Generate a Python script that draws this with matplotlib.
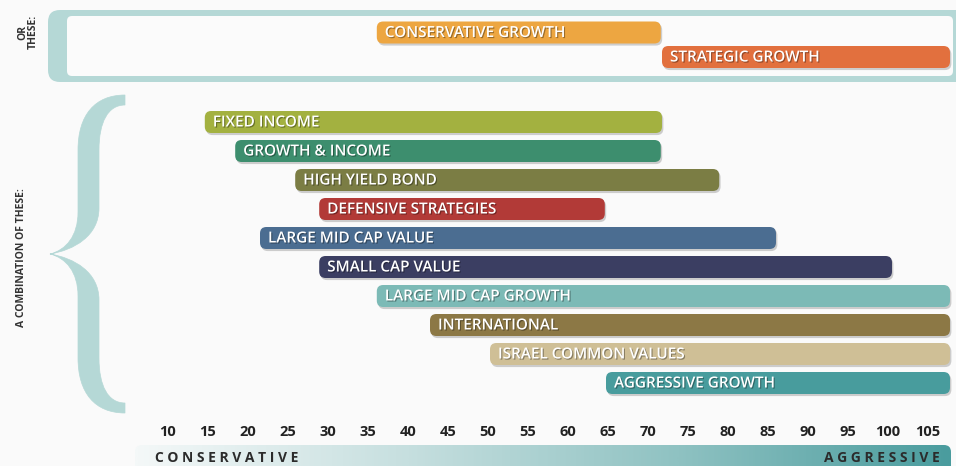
import numpy as np
import matplotlib
matplotlib.use('Agg')
import matplotlib.pyplot as plt
import matplotlib.patheffects as pe
from matplotlib.patches import FancyBboxPatch, PathPatch
from matplotlib.path import Path
from matplotlib.colors import LinearSegmentedColormap

plt.rcParams['font.family'] = ['Open Sans', 'DejaVu Sans']

# alternative single portfolios ("OR THESE")
alt_names = ['CONSERVATIVE GROWTH', 'STRATEGIC GROWTH']
alt_start = [36.1, 71.75]
alt_end = [71.6, 107.75]
alt_colors = ['#EDA641', '#E2703E']

# combination funds
fund_names = ['FIXED INCOME', 'GROWTH & INCOME', 'HIGH YIELD BOND', 'DEFENSIVE STRATEGIES',
              'LARGE MID CAP VALUE', 'SMALL CAP VALUE', 'LARGE MID CAP GROWTH',
              'INTERNATIONAL', 'ISRAEL COMMON VALUES', 'AGGRESSIVE GROWTH']
fund_start = [14.6, 18.4, 25.9, 28.9, 21.5, 28.9, 36.1, 42.75, 50.25, 64.75]
fund_end = [71.75, 71.6, 78.9, 64.6, 86.0, 100.5, 107.75, 107.75, 107.75, 107.75]
fund_colors = ['#A3B140', '#3D8E6E', '#7B7D44', '#B23A37', '#4B6D91',
               '#3B3E62', '#7CBAB6', '#8C7845', '#CFBF96', '#489C9D']

risk_ticks = [10, 15, 20, 25, 30, 35, 40, 45, 50, 55, 60, 65, 70, 75, 80, 85, 90, 95, 100, 105]

teal_light = '#B5D8D6'
bg = '#fafafa'

fig = plt.figure(figsize=(9.56, 4.66), dpi=100, facecolor=bg)

# decoration layer in pixel coords
deco = fig.add_axes([0, 0, 1, 1])
deco.set_xlim(0, 956)
deco.set_ylim(466, 0)
deco.axis('off')
deco.set_zorder(0)

# frame around the "or these" panel
deco.add_patch(FancyBboxPatch((48, 10), 930, 72, boxstyle='round,pad=0,rounding_size=12',
                              fc=teal_light, ec='none'))
deco.add_patch(FancyBboxPatch((67, 16), 886, 60, boxstyle='round,pad=0,rounding_size=5',
                              fc='#fbfbfb', ec='none'))

# curly brace
def brace_half(flip=False):
    pts = [(125, 95), (95, 95), (78, 115), (78, 150),
           (78, 212),
           (78, 236), (66, 250), (50, 254),
           (74, 250), (99, 236), (99, 208),
           (99, 150),
           (99, 122), (108, 105), (125, 105),
           (125, 95)]
    codes = [Path.MOVETO, Path.CURVE4, Path.CURVE4, Path.CURVE4,
             Path.LINETO,
             Path.CURVE4, Path.CURVE4, Path.CURVE4,
             Path.CURVE4, Path.CURVE4, Path.CURVE4,
             Path.LINETO,
             Path.CURVE4, Path.CURVE4, Path.CURVE4,
             Path.CLOSEPOLY]
    if flip:
        pts = [(x, 508 - y) for x, y in pts]
    return Path(pts, codes)

for f in (False, True):
    deco.add_patch(PathPatch(brace_half(f), fc=teal_light, ec=teal_light, lw=0.5))

# side labels
deco.text(28, 32, 'OR\nTHESE:', rotation=90, ha='center', va='center', fontsize=7.5,
          fontweight='bold', color='#333333', linespacing=1.0)
deco.text(22, 258, 'A COMBINATION OF THESE:', rotation=90, ha='center', va='center',
          fontsize=7.5, fontweight='bold', color='#333333')

# gradient risk bar
cmap = LinearSegmentedColormap.from_list('risk', ['#f4f8f8', '#c6dfdf', '#8fc2c2', '#4a9c9e'])
grad = np.linspace(0, 1, 400).reshape(1, -1)
im = deco.imshow(grad, extent=(135, 951, 470, 445), cmap=cmap, aspect='auto', zorder=1)
clip = FancyBboxPatch((135, 445), 816, 30, boxstyle='round,pad=0,rounding_size=7',
                      fc='none', ec='none', transform=deco.transData)
deco.add_patch(clip)
im.set_clip_path(clip)
deco.text(155, 458, ' '.join('CONSERVATIVE'), ha='left', va='center', fontsize=10,
          fontweight='bold', color='#2b2b2b', zorder=2)
deco.text(940, 458, ' '.join('AGGRESSIVE'), ha='right', va='center', fontsize=10,
          fontweight='bold', color='#2b2b2b', zorder=2)

# chart layer: x in risk units, y in pixels
ax = fig.add_axes([0, 51 / 466, 1, 415 / 466])
ax.set_zorder(1)
ax.patch.set_alpha(0)
ax.set_xlim(-11, 108.5)
ax.set_ylim(415, 0)
for s in ax.spines.values():
    s.set_visible(False)
ax.set_yticks([])
ax.set_xticks(risk_ticks)
ax.set_xticklabels([str(t) for t in risk_ticks], fontsize=10.5, fontweight='bold', color='#222222')
ax.tick_params(axis='x', length=0, pad=7)

bar_h = 22
shadow = [pe.SimplePatchShadow(offset=(1, -1.5), shadow_rgbFace='#000000', alpha=0.18), pe.Normal()]
txt_fx = [pe.SimplePatchShadow(offset=(0.8, -0.8), shadow_rgbFace='#000000', alpha=0.35), pe.Normal()]


def draw_bar(name, x0, x1, yc, color):
    p = FancyBboxPatch((x0, yc - bar_h / 2), x1 - x0, bar_h,
                       boxstyle='round,pad=0,rounding_size=0.8', mutation_aspect=8,
                       fc=color, ec='none', path_effects=shadow)
    ax.add_patch(p)
    ax.text(x0 + 1.0, yc + 0.5, name, ha='left', va='center', fontsize=11,
            fontweight='semibold', color='white', path_effects=txt_fx)


for i, name in enumerate(alt_names):
    draw_bar(name, alt_start[i], alt_end[i], 32.5 + i * 24.5, alt_colors[i])

for i, name in enumerate(fund_names):
    draw_bar(name, fund_start[i], fund_end[i], 122 + i * 29, fund_colors[i])

fig.savefig('out.png', dpi=100, facecolor=bg)
